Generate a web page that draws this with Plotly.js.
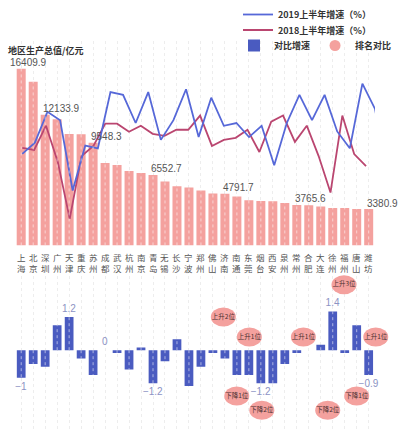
<!DOCTYPE html>
<html>
<head>
<meta charset="utf-8">
<script src="https://cdn.plot.ly/plotly-3.0.1.min.js"></script>
<style>html,body{margin:0;padding:0;background:#fff;}#chart{width:399px;height:431px;}</style>
</head>
<body>
<div id="chart"></div>
<script>
const cities = ['上海','北京','深圳','广州','天津','重庆','苏州','成都','武汉','杭州','南京','青岛','无锡','长沙','宁波','郑州','佛山','济南','南通','东莞','烟台','西安','泉州','常州','合肥','大连','徐州','福州','唐山','潍坊'];
const gdp = [16409.9, 15200, 12133.9, 11720, 10350, 10340, 9548.3, 7660, 7480, 6920, 6740, 6552.7, 5930, 5500, 5375, 5100, 4820, 4791.7, 4540, 4200, 4140, 4110, 3950, 3765.6, 3740, 3615, 3490, 3480, 3395, 3380.9];
const growth2019 = [5.9, 6.3, 7.4, 7.1, 4.6, 6.2, 6.1, 8.1, 8.0, 7.0, 8.1, 6.4, 7.1, 8.2, 6.5, 7.9, 6.9, 7.0, 6.5, 6.9, 5.5, 7.0, 8.0, 7.1, 8.0, 6.7, 6.1, 8.4, 7.5, 5.1];
const growth2018 = [6.9, 6.8, 8.0, 6.2, 3.4, 6.5, 7.0, 8.1, 8.1, 7.7, 8.0, 7.6, 7.5, 7.8, 7.8, 8.5, 7.0, 7.3, 7.4, 7.8, 6.7, 8.2, 8.5, 7.2, 8.0, 6.5, 4.7, 8.5, 6.6, 6.0];
const diffGrowth = [-1, -0.5, -0.6, 0.9, 1.2, -0.3, -0.9, 0, -0.1, -0.7, 0.1, -1.2, -0.4, 0.4, -1.3, -0.6, -0.1, -0.3, -0.9, -0.9, -1.2, -1.2, -0.5, -0.1, 0, 0.2, 1.4, -0.1, 0.9, -0.9];
const gdpLabelled = ['上海','深圳','苏州','青岛','济南','常州','潍坊'];
const diffLabelled = ['上海','天津','成都','青岛','烟台','徐州','潍坊'];
const rankText = ['上升2位','上升1位','下降1位','下降2位','上升1位','上升3位','下降2位','下降1位','上升1位'];
const rankX = [16.87, 19.04, 17.99, 20.08, 23.55, 26.94, 25.58, 28.0, 29.59];
const rankY = [1.2, 0.48, -1.66, -2.17, 0.48, 2.37, -2.17, -1.66, 0.48];

const W = 399, H = 431;
const idx = cities.map((c, i) => i);
const PINK = '#F4A19E', BLUE_BAR = '#4A5BC0', BLUE_LINE = '#5668D8', RED_LINE = '#BA4670';
const CJK = '"Noto Sans CJK SC", "Noto Sans", sans-serif';
const NUM = '"Liberation Sans", Arial, sans-serif';
const py = p => 1 - p / H;
const topDom = [py(245), py(40)];
const botDom = [0, py(270)];

const fmt = v => (v < 0 ? '−' : '') + Math.abs(v);

const traces = [
  {type: 'bar', x: idx, y: gdp, xaxis: 'x', yaxis: 'y', width: 0.75,
   marker: {color: PINK}, showlegend: false, hoverinfo: 'skip'},
  {type: 'scatter', mode: 'lines', x: idx, y: growth2019, xaxis: 'x2', yaxis: 'y2',
   name: '2019上半年增速（%）', legend: 'legend', line: {color: BLUE_LINE, width: 1.8}},
  {type: 'scatter', mode: 'lines', x: idx, y: growth2018, xaxis: 'x3', yaxis: 'y3',
   name: '2018上半年增速（%）', legend: 'legend2', line: {color: RED_LINE, width: 1.8}},
  {type: 'bar', x: idx, y: diffGrowth, xaxis: 'x', yaxis: 'y4', width: 0.73,
   name: '对比增速', legend: 'legend3', marker: {color: BLUE_BAR},
   text: cities.map((c, i) => diffLabelled.includes(c) ? fmt(diffGrowth[i]) : ''),
   textposition: 'outside', cliponaxis: false, constraintext: 'none',
   textfont: {family: NUM, size: 10, color: '#8C93C4'}},
  {type: 'scatter', mode: 'markers', x: [null], y: [null], xaxis: 'x', yaxis: 'y4',
   name: '排名对比', legend: 'legend3', marker: {color: PINK, size: 11, symbol: 'circle'}},
  {type: 'scatter', mode: 'text', x: rankX, y: rankY, text: rankText, xaxis: 'x', yaxis: 'y4',
   showlegend: false, cliponaxis: false, textposition: 'middle center',
   textfont: {family: CJK, size: 6.5, color: '#4A3030'}}
];

const shapes = [];
idx.forEach(i => {
  shapes.push({type: 'line', xref: 'x', yref: 'y', x0: i, x1: i, y0: 0, y1: gdp[i], layer: 'above',
    line: {color: 'rgba(255,255,255,0.55)', width: 1, dash: 'dot'}});
  if (diffGrowth[i] !== 0) shapes.push({type: 'line', xref: 'x', yref: 'y4', x0: i, x1: i, y0: 0, y1: diffGrowth[i], layer: 'above',
    line: {color: 'rgba(255,255,255,0.55)', width: 1, dash: 'dot'}});
});
rankX.forEach((x, k) => {
  shapes.push({type: 'circle', xref: 'x', yref: 'y4', xsizemode: 'pixel', ysizemode: 'pixel',
    xanchor: x, yanchor: rankY[k], x0: -12.5, x1: 12.5, y0: -9.5, y1: 9.5,
    fillcolor: PINK, line: {width: 0}, layer: 'between'});
});

const annotations = [];
cities.forEach((c, i) => {
  annotations.push({xref: 'x', yref: 'paper', x: i, y: py(261.8),
    text: c.charAt(0) + '<br>' + c.charAt(1), showarrow: false, xanchor: 'center', yanchor: 'middle',
    font: {family: CJK, size: 8.5, color: '#555'}});
});
gdpLabelled.forEach(c => {
  const i = cities.indexOf(c);
  annotations.push({xref: 'x', yref: 'y', x: i, y: gdp[i], text: String(gdp[i]), showarrow: false,
    xanchor: 'left', yanchor: 'middle', xshift: i === 0 ? -13 : -4, yshift: 6,
    font: {family: NUM, size: 10, color: '#555'}});
});

const legendFont = {family: CJK, size: 9, color: '#333', weight: 'bold'};
const layout = {
  width: W, height: H,
  margin: {l: 0, r: 0, t: 0, b: 0},
  paper_bgcolor: '#fff', plot_bgcolor: 'rgba(0,0,0,0)',
  title: {text: '地区生产总值/亿元', x: 8 / W, xanchor: 'left', y: py(50.7), yanchor: 'middle',
    font: {family: CJK, size: 9, color: '#333', weight: 'bold'}},
  barmode: 'overlay',
  xaxis: {domain: [0, 1], range: [-1.77, 31.53], anchor: 'y', tickmode: 'array', tickvals: idx,
    showticklabels: false, showgrid: true, gridcolor: '#EDEDED', griddash: 'dot', gridwidth: 1,
    zeroline: false, showline: false, ticks: ''},
  yaxis: {domain: topDom, range: [0, 19006], visible: false, fixedrange: true},
  xaxis2: {domain: [0, 375 / W], range: [-1.769, 28], anchor: 'y2', visible: false},
  yaxis2: {domain: topDom, range: [2.648, 9.918], anchor: 'x2', visible: false},
  xaxis3: {overlaying: 'x', range: [-1.8815, 31.78], visible: false},
  yaxis3: {overlaying: 'y', range: [2.087, 12.186], visible: false},
  yaxis4: {domain: botDom, range: [-2.924, 2.888], anchor: 'x', visible: false},
  legend: {x: 238 / W, xanchor: 'left', y: py(14), yanchor: 'middle', font: legendFont,
    bgcolor: 'rgba(0,0,0,0)', borderwidth: 0},
  legend2: {x: 238 / W, xanchor: 'left', y: py(30), yanchor: 'middle', font: legendFont,
    bgcolor: 'rgba(0,0,0,0)', borderwidth: 0},
  legend3: {x: 234 / W, xanchor: 'left', y: py(45.5), yanchor: 'middle', orientation: 'h',
    font: legendFont, bgcolor: 'rgba(0,0,0,0)', borderwidth: 0},
  shapes: shapes,
  annotations: annotations,
  showlegend: true
};

Plotly.newPlot('chart', traces, layout, {displayModeBar: false, staticPlot: true});
</script>
</body>
</html>
